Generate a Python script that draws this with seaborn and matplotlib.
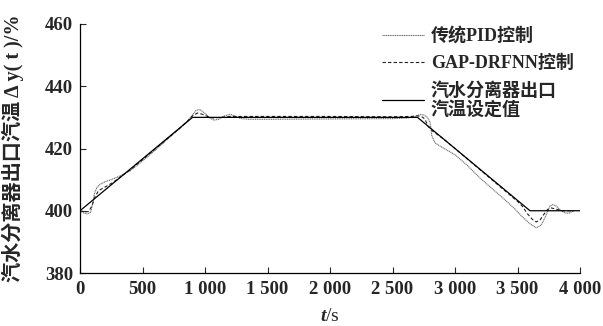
import matplotlib
matplotlib.use("Agg")
import matplotlib.pyplot as plt
import seaborn as sns

sns.set_theme(style="ticks")
plt.rcParams['font.family'] = ['Liberation Serif', 'Noto Sans CJK SC', 'DejaVu Sans']
plt.rcParams['font.weight'] = 'bold'
plt.rcParams['mathtext.fontset'] = 'custom'
plt.rcParams['mathtext.rm'] = 'Liberation Serif:bold'
plt.rcParams['mathtext.it'] = 'Liberation Serif:italic:bold'

# setpoint
t_set = [0, 900, 2700, 3600, 4000]
v_set = [400, 430, 430, 400, 400]

# conventional PID
t_pid = [0, 30, 60, 85, 100, 115, 135, 160, 200, 250, 320, 400, 500, 600, 700, 800,
         860, 900, 930, 960, 1000, 1040, 1070, 1110, 1160, 1200, 1240, 1290, 1350,
         1500, 2000, 2500, 2620, 2680, 2720, 2750, 2780, 2800, 2815, 2840, 2900,
         3000, 3100, 3200, 3300, 3400, 3480, 3540, 3600, 3650, 3690, 3720, 3760,
         3780, 3810, 3850, 3880, 3910, 3950]
v_pid = [400, 399.3, 399.0, 399.5, 402, 405.5, 407.5, 408.5, 409.3, 410, 411.2, 412.8,
         416, 419.4, 423, 426.5, 428.8, 430.8, 432.3, 432.5, 431.3, 429.8, 429.1, 429.4,
         430.5, 431, 430.4, 429.6, 429.4, 429.4, 429.5, 429.6, 429.8, 430.3, 430.9,
         430.8, 430, 428.5, 424, 421.8, 420.3, 418, 414.5, 410.5, 407, 403.5, 400.5,
         398, 395.8, 394.5, 395.4, 397.8, 401.5, 402, 401.5, 400, 399.3, 399.2, 400]

# GAP-DRFNN
t_gap = [0, 40, 70, 95, 120, 150, 200, 260, 330, 400, 500, 600, 700, 800, 860, 900,
         940, 980, 1030, 1070, 1120, 1200, 1500, 2000, 2500, 2650, 2700, 2740, 2760,
         2785, 2820, 2900, 3000, 3100, 3200, 3300, 3400, 3500, 3540, 3580, 3620,
         3650, 3680, 3710, 3740, 3770, 3810, 3860, 3950]
v_gap = [400, 399.6, 399.8, 401.5, 404.5, 406.5, 407.6, 409, 411, 413.1, 416.4, 419.8,
         423.2, 426.6, 428.8, 430.5, 431.4, 431, 430.1, 429.8, 430, 430.3, 430.3, 430.3,
         430.2, 430.3, 430.5, 430.1, 429.4, 427.1, 425.6, 423.3, 420, 416.6, 413.2,
         409.8, 406.4, 403, 401.4, 399, 397.2, 396.4, 397, 398.8, 400.4, 400.9, 400.5,
         400, 400]

x_ticks = [0, 500, 1000, 1500, 2000, 2500, 3000, 3500, 4000]
x_labels = ['0', '500', '1 000', '1 500', '2 000', '2 500', '3 000', '3 500', '4 000']
y_ticks = [380, 400, 420, 440, 460]

fig = plt.figure(figsize=(6.03, 3.26), dpi=100)
ax = fig.add_axes([80 / 603, 1 - 273 / 326, 500 / 603, 249 / 326])

sns.lineplot(x=t_pid, y=v_pid, ax=ax, sort=False, color='#666666', lw=0.8,
             linestyle=(0, (1, 0.6)), label='传统PID控制')
sns.lineplot(x=t_gap, y=v_gap, ax=ax, sort=False, color='#222222', lw=0.8,
             linestyle=(0, (3, 2)), label='GAP-DRFNN控制')
sns.lineplot(x=t_set, y=v_set, ax=ax, sort=False, color='black', lw=0.9,
             label='汽水分离器出口\n汽温设定值')

ax.set_xlim(0, 4000)
ax.set_ylim(380, 460)
ax.set_xticks(x_ticks)
ax.set_xticklabels(x_labels)
ax.set_yticks(y_ticks)
ax.tick_params(direction='in', length=4, width=0.8, labelsize=13.5)
ax.tick_params(axis='x', pad=6)
ax.tick_params(axis='y', pad=5)
for lab in ax.get_xticklabels() + ax.get_yticklabels():
    lab.set_fontweight('bold')
sns.despine(ax=ax)
for sp in ['left', 'bottom']:
    ax.spines[sp].set_linewidth(0.9)
    ax.spines[sp].set_color('black')

ax.set_xlabel('$t$/s', fontsize=14)
ax.xaxis.set_label_coords(0.5, -0.14)
ax.set_ylabel('汽水分离器出口汽温 Δ y( t )/%', fontsize=14.5, fontweight='bold')
ax.yaxis.set_label_coords(-0.112, 0.5)

leg = ax.legend(loc='upper left', bbox_to_anchor=(382 / 603, 1 - 27 / 326),
                bbox_transform=fig.transFigure, frameon=False, fontsize=13,
                handlelength=2.3, handletextpad=0.4, labelspacing=0.55,
                borderpad=0, borderaxespad=0)
for txt in leg.get_texts():
    txt.set_fontweight('bold')
    txt.set_linespacing(1.05)

fig.savefig('out.png', dpi=100)
